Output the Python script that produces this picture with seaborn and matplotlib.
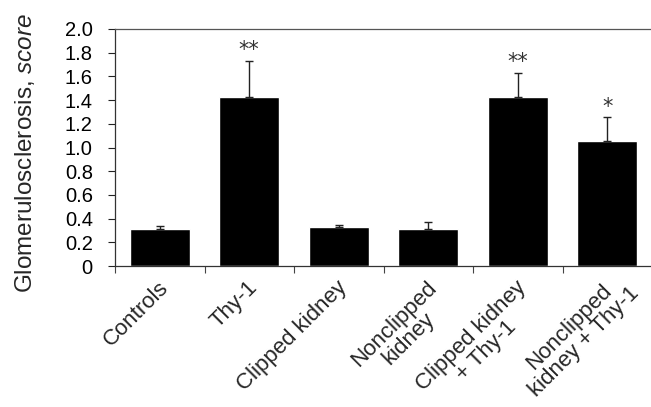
import numpy as np
import pandas as pd
import matplotlib
matplotlib.use("Agg")
import matplotlib.pyplot as plt
import matplotlib.transforms as mtransforms
import seaborn as sns

# Värden
grupper = ["Controls", "Thy-1", "Clipped kidney", "Nonclipped\nkidney",
           "Clipped kidney\n+ Thy-1", "Nonclipped\nkidney + Thy-1"]
medel = [0.31, 1.43, 0.325, 0.31, 1.43, 1.055]
sem = [0.025, 0.30, 0.025, 0.06, 0.20, 0.20]
stjarnor = ["", "**", "", "", "**", "*"]
yticks = [0, 0.2, 0.4, 0.6, 0.8, 1.0, 1.2, 1.4, 1.6, 1.8, 2.0]
ytick_labels = ["0", "0.2", "0.4", "0.6", "0.8", "1.0", "1.2", "1.4", "1.6", "1.8", "2.0"]

df = pd.DataFrame({"grupp": grupper, "medel": medel, "sem": sem})

sns.set_style("ticks")
plt.rcParams['font.family'] = ['Liberation Sans', 'DejaVu Sans']
plt.rcParams['mathtext.fontset'] = 'custom'
plt.rcParams['mathtext.rm'] = 'Liberation Sans'
plt.rcParams['mathtext.it'] = 'Liberation Sans:italic'

fig = plt.figure(figsize=(6.51, 4.07), dpi=100)
ax = fig.add_axes([115/651, 141/407, 537/651, 237/407])

sns.barplot(data=df, x="grupp", y="medel", color="black", width=0.67,
            errorbar=None, saturation=1, ax=ax, zorder=2)

x = np.arange(len(grupper))
ax.errorbar(x, df["medel"], yerr=[np.zeros(len(sem)), df["sem"]], fmt="none",
            ecolor="#222222", elinewidth=1, capsize=3, capthick=1, zorder=3)

# Signifikansstjärnor
for i, s in enumerate(stjarnor):
    if s:
        ax.text(i, medel[i] + sem[i] + 0.09, s, ha="center", va="center",
                fontsize=15, family="DejaVu Sans", color="#333333")

ax.set_xlim(-0.5, len(grupper) - 0.5)
ax.set_ylim(0, 2.0)
ax.set_yticks(yticks)
ax.set_yticklabels(ytick_labels, fontsize=14.5)
ax.tick_params(axis="y", direction="out", length=5, width=0.8, pad=11, colors="#222222")
ax.tick_params(axis="y", labelcolor="black")

ax.set_xticks(np.arange(-0.5, len(grupper), 1), minor=True)
ax.tick_params(axis="x", which="minor", direction="out", length=5, width=0.8, colors="#444444")
ax.tick_params(axis="x", which="major", length=0, pad=0)
ax.set_xticklabels(grupper, fontsize=16, rotation=45, ha="right",
                   va="top", rotation_mode="anchor", multialignment="center",
                   linespacing=1.0)
for i, lbl in enumerate(ax.get_xticklabels()):
    dx, dy = -2, -11
    # sista etiketten: övre raden är kortare, flytta upp längs texten
    if i == len(grupper) - 1:
        dx, dy = dx + 8, dy + 9
    offset = mtransforms.ScaledTranslation(dx/100, dy/100, fig.dpi_scale_trans)
    lbl.set_transform(lbl.get_transform() + offset)

ax.set_xlabel("")
ax.set_ylabel("")
fig.text(0.038, 0.624, "Glomerulosclerosis, $\\mathit{score}$", rotation=90,
         ha="center", va="center", fontsize=17.5)

for side in ["left", "bottom", "top"]:
    ax.spines[side].set_linewidth(0.9)
    ax.spines[side].set_color("#333333")
ax.spines["top"].set_color("#555555")
ax.spines["right"].set_visible(False)

fig.savefig("out.png", dpi=100)
